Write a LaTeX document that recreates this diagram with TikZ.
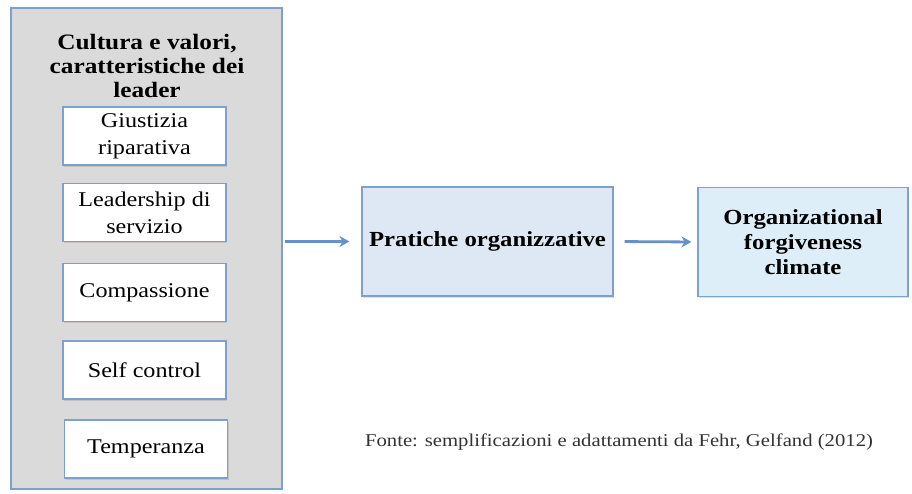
\documentclass[tikz,border=0pt]{standalone}
\usepackage{fontspec}
\setmainfont{Liberation Serif}[FakeStretch=1.15]
\usetikzlibrary{calc}
\usetikzlibrary{arrows.meta}
\usetikzlibrary{shadows}
\definecolor{bordo}{RGB}{125,160,204}
\definecolor{freccia}{RGB}{100,145,200}
\definecolor{grigio}{RGB}{218,218,218}
\definecolor{azzurro}{RGB}{222,232,244}
\definecolor{celeste}{RGB}{222,238,248}
\tikzset{
  ombra/.style={drop shadow={opacity=.25, shadow xshift=1pt, shadow yshift=-1.5pt}},
  contenitore/.style={draw=bordo, line width=1.2pt, fill=grigio},
  voce/.style={draw=bordo, line width=1.2pt, fill=white, ombra, align=center,
    minimum width=163pt, minimum height=58pt, inner sep=0pt,
    font=\fontsize{21}{27}\selectfont},
  blocco/.style={draw=bordo, line width=1.2pt, ombra, align=center, inner sep=0pt,
    minimum height=109pt, font=\fontsize{21.5}{25}\selectfont\bfseries},
  freccia/.style={draw=freccia, line width=2.8pt, -{Stealth[length=10pt,width=11pt]}}
}
\begin{document}
\begin{tikzpicture}[x=1pt, y=-1pt]
    \useasboundingbox (0,0) rectangle (912,493);
    \node[contenitore, minimum width=271pt, minimum height=481pt, inner sep=0pt] (cultura) at (146.5,248.5) {};
    \node[align=center, font=\fontsize{22}{24}\selectfont\bfseries] (titolo) at (147,66) {Cultura e valori,\\caratteristiche dei\\leader};
    \foreach \x/\y/\nome/\testo in {144.5/136/giustizia/{Giustizia\\riparativa}, 144.5/212.5/servizio/{Leadership di\\servizio}, 144.5/292.5/compassione/{Compassione}, 144.5/370/controllo/{Self control}, 146/449/temperanza/{Temperanza}} {
      \node[voce] (\nome) at (\x,\y) {\testo};
    }
    \node[blocco, fill=azzurro, minimum width=251pt] (pratiche) at (487.5,241.5) {Pratiche organizzative};
    \node[blocco, fill=celeste, minimum width=210pt] (clima) at (803,242) {Organizational\\forgiveness\\climate};
    \draw[freccia, shorten <=2pt, shorten >=12pt] (cultura.east |- pratiche.west) -- (pratiche.west);
    \draw[freccia, shorten <=11pt, shorten >=6pt] (pratiche.east) -- (clima.west);
    \node[font=\fontsize{18}{21}\selectfont, text=black!80] (fonte) at (619,442) {Fonte: semplificazioni e adattamenti da Fehr, Gelfand (2012)};
\end{tikzpicture}
\end{document}
